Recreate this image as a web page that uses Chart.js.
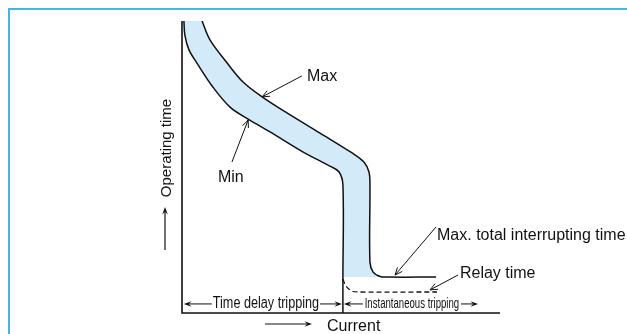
<!DOCTYPE html>
<html>
<head>
<meta charset="utf-8">
<script src="https://cdn.jsdelivr.net/npm/chart.js@4.4.1/dist/chart.umd.min.js"></script>
<style>
  html, body { margin: 0; padding: 0; background: #fff; }
  body { width: 627px; height: 334px; overflow: hidden; position: relative; }
  #frame { position: absolute; left: 8px; top: 8px; width: 700px; height: 400px; border: 2px solid #4bb2e6; }
  canvas { position: absolute; left: 0; top: 0; }
</style>
</head>
<body>
<div id="frame"></div>
<canvas id="trip" width="627" height="334"></canvas>
<script>
// current (x) / operating time (y), both in relative units 0..100
const maxCurve = [
  [6.3, 100], [8.8, 93.5], [14.2, 85.6], [19.2, 79.1], [25.2, 74.0], [33.0, 68.5],
  [43.4, 61.6], [53.5, 54.8], [57.2, 51.7], [58.8, 48.3], [59.1, 43.8], [59.1, 17.5],
  [60.1, 14.0], [62.3, 12.5], [64.8, 12.3], [79.9, 12.3]
];
const minCurve = [
  [0.6, 100], [0.9, 95.2], [2.2, 90.1], [4.7, 85.6], [9.7, 77.4], [15.1, 70.5],
  [20.8, 66.4], [27.7, 62.0], [38.1, 55.1], [46.5, 50.3], [49.4, 48.3], [50.6, 43.8],
  [50.6, 12.3], [50.6, 0]
];
const relayCurve = [
  [50.6, 11.6], [51.6, 9.2], [53.5, 7.5], [56.0, 7.2], [80.2, 7.2]
];

// text labels with the point their arrow touches
const callouts = [
  { text: 'Max', at: [39.3, 79.5], from: [37.7, 81.2], to: [25.2, 74.0] },
  { text: 'Min', at: [11.3, 44.9], from: [15.7, 51.7], to: [20.8, 66.1] },
  { text: 'Max. total interrupting time', at: [80.2, 25.0], from: [79.9, 29.5], to: [67.0, 13.0] },
  { text: 'Relay time', at: [87.4, 12.0], from: [86.8, 13.0], to: [78.0, 7.9] }
];
const ranges = [
  { text: 'Time delay tripping', from: 0.6, to: 50.3, textFrom: 9.7, textTo: 43.1, squeeze: 0.79, size: 16 },
  { text: 'Instantaneous tripping', from: 50.9, to: 93.1, textFrom: 57.2, textTo: 87.4, squeeze: 0.64, size: 15 }
];
const rangeLevel = 3.1;

const xs = pts => pts.map(p => ({ x: p[0], y: p[1] }));

// light blue band: down the max curve, across the bottom, back up the min curve
// (the bottom-left corner is listed twice so the spline keeps it square)
const bandCurve = maxCurve.slice(0, 14).concat(
  [[62.3, 12.3], [62.3, 12.3], [50.6, 12.3], [50.6, 12.3]],
  minCurve.slice(0, 12).reverse()
);

const FONT = '"Liberation Sans", Arial, Helvetica, sans-serif';

function openArrow(ctx, x1, y1, x2, y2, len) {
  const ang = Math.atan2(y2 - y1, x2 - x1);
  ctx.beginPath();
  ctx.moveTo(x1, y1);
  ctx.lineTo(x2, y2);
  ctx.moveTo(x2 - len * Math.cos(ang - 0.4), y2 - len * Math.sin(ang - 0.4));
  ctx.lineTo(x2, y2);
  ctx.lineTo(x2 - len * Math.cos(ang + 0.4), y2 - len * Math.sin(ang + 0.4));
  ctx.stroke();
}

function solidArrow(ctx, x1, y1, x2, y2, len) {
  const ang = Math.atan2(y2 - y1, x2 - x1);
  ctx.beginPath();
  ctx.moveTo(x1, y1);
  ctx.lineTo(x2 - len * 0.6 * Math.cos(ang), y2 - len * 0.6 * Math.sin(ang));
  ctx.stroke();
  ctx.beginPath();
  ctx.moveTo(x2, y2);
  ctx.lineTo(x2 - len * Math.cos(ang - 0.35), y2 - len * Math.sin(ang - 0.35));
  ctx.lineTo(x2 - len * 0.6 * Math.cos(ang), y2 - len * 0.6 * Math.sin(ang));
  ctx.lineTo(x2 - len * Math.cos(ang + 0.35), y2 - len * Math.sin(ang + 0.35));
  ctx.closePath();
  ctx.fill();
}

const drawings = {
  id: 'drawings',
  afterDatasetsDraw(chart) {
    const { ctx, chartArea: a, scales: { x, y } } = chart;
    const px = v => x.getPixelForValue(v);
    const py = v => y.getPixelForValue(v);
    ctx.save();
    ctx.strokeStyle = '#111';
    ctx.fillStyle = '#111';

    // axes
    ctx.lineWidth = 1.6;
    ctx.beginPath();
    ctx.moveTo(a.left, a.top);
    ctx.lineTo(a.left, a.bottom);
    ctx.lineTo(a.right, a.bottom);
    ctx.stroke();

    // callouts
    ctx.lineWidth = 1;
    ctx.font = '16px ' + FONT;
    ctx.textAlign = 'left';
    ctx.textBaseline = 'alphabetic';
    callouts.forEach(c => {
      openArrow(ctx, px(c.from[0]), py(c.from[1]), px(c.to[0]), py(c.to[1]), 8);
      ctx.fillText(c.text, px(c.at[0]), py(c.at[1]));
    });

    // tripping ranges along the bottom
    const ry = py(rangeLevel);
    ranges.forEach(r => {
      ctx.lineWidth = 1;
      solidArrow(ctx, px(r.textFrom) - 1, ry, px(r.from), ry, 8);
      solidArrow(ctx, px(r.textTo) + 1, ry, px(r.to), ry, 8);
      ctx.save();
      const cx = (px(r.textFrom) + px(r.textTo)) / 2;
      ctx.translate(cx, ry + 4);
      ctx.scale(r.squeeze, 1);
      ctx.font = r.size + 'px ' + FONT;
      ctx.textAlign = 'center';
      ctx.fillText(r.text, 0, 0);
      ctx.restore();
    });

    // axis titles with arrows
    ctx.lineWidth = 1.2;
    ctx.font = '16px ' + FONT;
    ctx.textAlign = 'left';
    ctx.fillText('Current', a.left + 145, a.bottom + 18);
    solidArrow(ctx, a.left + 83, a.bottom + 11, a.left + 130, a.bottom + 11, 8);

    ctx.save();
    ctx.font = '15px ' + FONT;
    ctx.translate(a.left - 11, a.top + 127);
    ctx.rotate(-Math.PI / 2);
    ctx.textAlign = 'center';
    ctx.fillText('Operating time', 0, 0);
    ctx.restore();
    solidArrow(ctx, a.left - 17, a.top + 229, a.left - 17, a.top + 186, 8);

    ctx.restore();
  }
};

new Chart(document.getElementById('trip'), {
  type: 'line',
  data: {
    datasets: [
      {
        label: 'Band',
        data: xs(bandCurve),
        order: 2,
        borderWidth: 0,
        borderColor: 'rgba(0,0,0,0)',
        backgroundColor: '#d3ebf8',
        fill: 'shape',
        tension: 0.35,
        pointRadius: 0
      },
      {
        label: 'Max',
        data: xs(maxCurve),
        order: 1,
        borderColor: '#111',
        borderWidth: 1.5,
        fill: false,
        tension: 0.35,
        pointRadius: 0
      },
      {
        label: 'Min',
        data: xs(minCurve),
        order: 1,
        borderColor: '#111',
        borderWidth: 1.5,
        fill: false,
        tension: 0.35,
        pointRadius: 0
      },
      {
        label: 'Relay time',
        data: xs(relayCurve),
        order: 1,
        borderColor: '#111',
        borderWidth: 1.3,
        borderDash: [5, 3],
        fill: false,
        tension: 0.35,
        pointRadius: 0
      }
    ]
  },
  options: {
    responsive: false,
    animation: false,
    devicePixelRatio: 1,
    layout: { padding: { left: 182, right: 127, top: 21, bottom: 21 } },
    scales: {
      x: { type: 'linear', min: 0, max: 100, display: false },
      y: { type: 'linear', min: 0, max: 100, display: false }
    },
    plugins: {
      legend: { display: false },
      tooltip: { enabled: false }
    }
  },
  plugins: [drawings]
});
</script>
</body>
</html>
